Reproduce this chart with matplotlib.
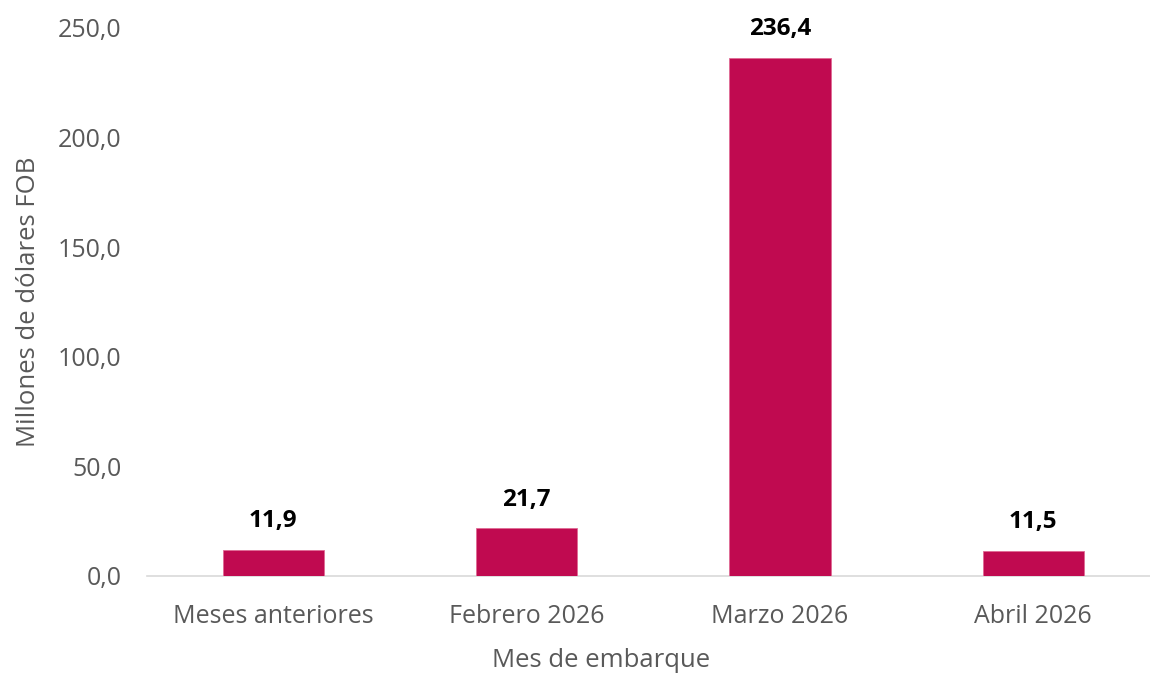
import matplotlib
matplotlib.use("Agg")
import matplotlib.pyplot as plt
from matplotlib.ticker import FuncFormatter

categories = ["Meses anteriores", "Febrero 2026", "Marzo 2026", "Abril 2026"]
values = [11.9, 21.7, 236.4, 11.5]
yticks = [0, 50, 100, 150, 200, 250]

plt.rcParams['font.family'] = ['Open Sans', 'DejaVu Sans']

fig = plt.figure(figsize=(11.5, 6.77), dpi=100)
# plot area runs a bit past the right edge, as in the original
ax = fig.add_axes([146.5 / 1150, 1 - 576 / 677, 1013.5 / 1150, (576 - 28) / 677])

x = range(len(categories))
ax.bar(x, values, width=0.4, color="#C00A50", edgecolor="#E06A95", linewidth=0.6, zorder=3)
for xi, v in zip(x, values):
    ax.annotate(f"{v:.1f}".replace(".", ","), (xi, v), xytext=(0, 12), textcoords="offset points",
                ha="center", va="bottom", fontsize=17.5, fontweight="bold", color="black")

ax.set_xlim(-0.5, len(categories) - 0.5)
ax.set_ylim(0, 250)
ax.set_yticks(yticks)
ax.yaxis.set_major_formatter(FuncFormatter(lambda v, p: f"{v:.1f}".replace(".", ",")))
ax.set_xticks(list(x))
ax.set_xticklabels(categories)
ax.tick_params(axis="both", length=0, labelsize=18, colors="#595959")
ax.tick_params(axis="y", pad=18)
ax.tick_params(axis="x", pad=20)

for s in ["top", "right", "left"]:
    ax.spines[s].set_visible(False)
ax.spines["bottom"].set_color("#D9D9D9")
ax.spines["bottom"].set_linewidth(1.2)

ax.set_xlabel("Mes de embarque", fontsize=18.5, color="#595959")
ax.xaxis.label.set_va("center")
ax.xaxis.set_label_coords(0.4485, -0.155)
ax.set_ylabel("Millones de dólares FOB", fontsize=18.5, color="#595959", labelpad=12)

fig.savefig("out.png", dpi=100)
